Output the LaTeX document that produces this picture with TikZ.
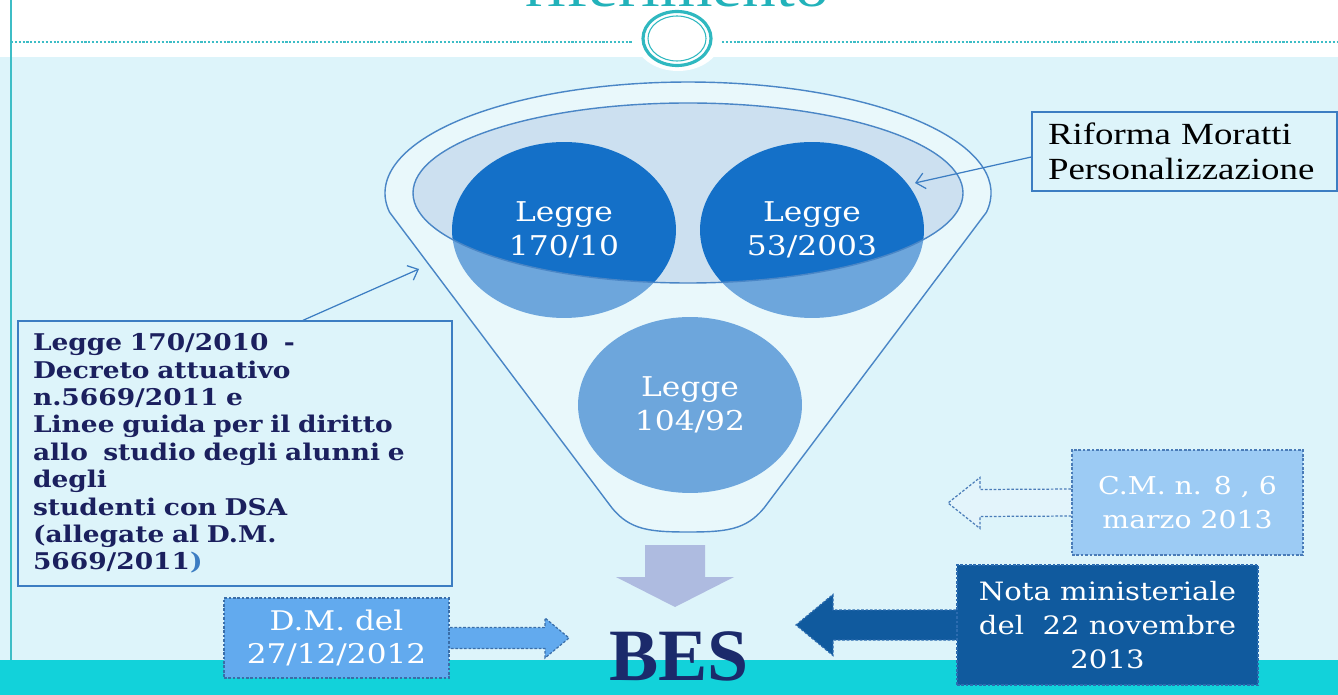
\documentclass[tikz,border=0pt]{standalone}
\usepackage{fontspec}
\setmainfont{DejaVu Serif}[FakeStretch=1.15]
\newfontfamily\timesfont{Liberation Serif}[FakeStretch=1.2]
\newfontfamily\besfont{Liberation Serif}
\usetikzlibrary{shapes.geometric,arrows.meta,calc}

\definecolor{bgcyan}{HTML}{DDF4FA}
\definecolor{bandteal}{HTML}{12D2DA}
\definecolor{lineteal}{HTML}{3DBDC6}
\definecolor{ringteal}{HTML}{2FB8C0}
\definecolor{titleteal}{HTML}{22B2BA}
\definecolor{funnelblue}{HTML}{4A86C6}
\definecolor{boxblue}{HTML}{3C7DC2}
\definecolor{innerfill}{HTML}{CCE0F0}
\definecolor{lawblue}{HTML}{1470C8}
\definecolor{downlav}{HTML}{AEBBE0}
\definecolor{dmfill}{HTML}{62AAEE}
\definecolor{dmborder}{HTML}{3A6EA8}
\definecolor{cmfill}{HTML}{9CCBF4}
\definecolor{cmborder}{HTML}{4A7CB8}
\definecolor{cmarrow}{HTML}{E3F4FB}
\definecolor{notafill}{HTML}{105A9E}
\definecolor{notaborder}{HTML}{2C6CB0}
\definecolor{lefttext}{HTML}{1B205E}
\definecolor{bestext}{HTML}{1B2A6B}

\pgfdeclarelayer{bglayer}
\pgfdeclarelayer{behind}
\pgfsetlayers{bglayer,behind,main}

\begin{document}
\begin{tikzpicture}[x=0.02cm, y=-0.02cm,
  lawcirc/.style={ellipse, fill=lawblue, text=white, minimum width=4.48cm, minimum height=3.52cm, inner sep=0pt, align=center, font=\fontsize{15.5}{19}\selectfont},
  notebox/.style={draw=boxblue, line width=0.8pt, fill=bgcyan, inner ysep=0pt, align=left},
  dashbox/.style={draw=#1, line width=0.7pt, dash pattern=on 1.5pt off 1pt, text=white, align=center, inner sep=0pt},
  pointer/.style={draw=boxblue, line width=0.7pt, -{Straight Barb[length=5pt,width=9pt]}}]
\useasboundingbox (0,0) rectangle (1338,695);
\clip (0,0) rectangle (1338,695);

\begin{pgfonlayer}{bglayer}
\fill[white] (0,0) rectangle (1338,57);
\fill[bgcyan] (0,57) rectangle (1338,660);
\fill[bandteal] (0,660) rectangle (1338,695);
\end{pgfonlayer}

% title strip
\draw[lineteal, line width=1.2pt] (11,0) -- (11,660);
\draw[lineteal, line width=1.3pt, dash pattern=on 1.2pt off 1pt] (11,42) -- (632,42) (722,42) -- (1338,42);
\fill[white] (678,39) ellipse [x radius=43, y radius=32];
\draw[ringteal, line width=1.8pt] (677,38.5) ellipse [x radius=34, y radius=27];
\draw[ringteal, line width=0.6pt] (677,38.5) ellipse [x radius=29, y radius=22.5];
\node[text=titleteal, anchor=base, font=\timesfont\fontsize{32}{34}\selectfont] (title) at (677,7) {riferimento};

% funnel
\fill[innerfill] (688,193) ellipse [x radius=275, y radius=90];
\node[lawcirc] (c1) at (564,230) {Legge\\170/10};
\node[lawcirc] (c2) at (812,230) {Legge\\53/2003};
\node[lawcirc] (c3) at (690,405) {Legge\\104/92};
\fill[white, fill opacity=0.38, even odd rule] (986.4,212.3) arc[start angle=10, end angle=-190, x radius=303, y radius=111] -- (612,508) .. controls (630,530) and (650,532) .. (688,532) .. controls (726,532) and (746,530) .. (764,508) -- cycle (688,193) ellipse [x radius=275, y radius=90];
\draw[funnelblue, line width=0.8pt] (986.4,212.3) arc[start angle=10, end angle=-190, x radius=303, y radius=111] -- (612,508) .. controls (630,530) and (650,532) .. (688,532) .. controls (726,532) and (746,530) .. (764,508) -- cycle;
\draw[funnelblue, line width=0.8pt] (688,193) ellipse [x radius=275, y radius=90];

% notes
\node[notebox, text width=8.08cm, inner xsep=0.3cm, minimum height=5.3cm, text=lefttext, font=\bfseries\fontsize{13.1}{15.6}\selectfont] (lbox) at (235,453.5) {Legge 170/2010\ \ -\\Decreto attuativo\\n.5669/2011 e\\Linee guida per il diritto\\allo\ \ studio degli alunni e\\degli\\studenti con DSA\\(allegate al D.M.\\5669/2011\textcolor{boxblue}{)}};
\coordinate (lbtip) at (419,269);
\draw[pointer] ([xshift=1.36cm]lbox.north) -- (lbtip);

\node[notebox, text width=5.46cm, inner xsep=0.32cm, minimum height=1.58cm, text=black, font=\timesfont\fontsize{17.5}{19.8}\selectfont] (rif) at (1184.5,151.5) {Riforma Moratti\\Personalizzazione};
\coordinate (riftip) at (915,183);
\draw[pointer] ([yshift=-0.11cm]rif.west) -- (riftip);

\node[dashbox=cmborder, fill=cmfill, minimum width=4.62cm, minimum height=2.1cm, font=\fontsize{14}{19.8}\selectfont] (cm) at (1187.5,502.5) {C.M. n. 8 , 6\\marzo 2013};
\node[dashbox=notaborder, fill=notafill, minimum width=6.02cm, minimum height=2.4cm, font=\fontsize{14.4}{19.3}\selectfont] (nota) at (1107.5,625) {Nota ministeriale\\del\ \ 22 novembre\\2013};
\node[dashbox=dmborder, fill=dmfill, minimum width=4.5cm, minimum height=1.6cm, font=\fontsize{15.4}{18.7}\selectfont] (dm) at (336.5,638) {D.M. del\\27/12/2012};
\node[text=bestext, inner sep=0pt, font=\besfont\bfseries\fontsize{42}{44}\selectfont] (bes) at (679,656) {BES};

% block arrows
\begin{pgfonlayer}{behind}
\coordinate (downtip) at (675,607);
\fill[downlav] ($(downtip)+(-30,-62)$) -- ($(downtip)+(30,-62)$) -- ($(downtip)+(30,-30)$) -- ($(downtip)+(59,-30)$) -- (downtip) -- ($(downtip)+(-59,-30)$) -- ($(downtip)+(-30,-30)$) -- cycle;
\coordinate (dmtip) at (569,638);
\draw[dmborder, fill=dmfill, line width=0.7pt, dash pattern=on 1.5pt off 1pt] ($(dm.east)+(-4,-10.5)$) -- ($(dmtip)+(-24,-10.5)$) -- ($(dmtip)+(-24,-20)$) -- (dmtip) -- ($(dmtip)+(-24,20)$) -- ($(dmtip)+(-24,10.5)$) -- ($(dm.east)+(-4,10.5)$) -- cycle;
\coordinate (cmtip) at (948,503);
\draw[cmborder, fill=cmarrow, line width=0.7pt, dash pattern=on 1.5pt off 1pt] ($(cm.west)+(4,-13.5)$) -- ($(cmtip)+(32,-13.5)$) -- ($(cmtip)+(32,-25.5)$) -- (cmtip) -- ($(cmtip)+(32,25.5)$) -- ($(cmtip)+(32,13.5)$) -- ($(cm.west)+(4,13.5)$) -- cycle;
\coordinate (notatip) at (796,625);
\draw[notaborder, fill=notafill, line width=0.7pt, dash pattern=on 1.5pt off 1pt] ($(nota.west)+(4,-15)$) -- ($(notatip)+(37,-15)$) -- ($(notatip)+(37,-30.5)$) -- (notatip) -- ($(notatip)+(37,30.5)$) -- ($(notatip)+(37,15)$) -- ($(nota.west)+(4,15)$) -- cycle;
\end{pgfonlayer}
\end{tikzpicture}
\end{document}
